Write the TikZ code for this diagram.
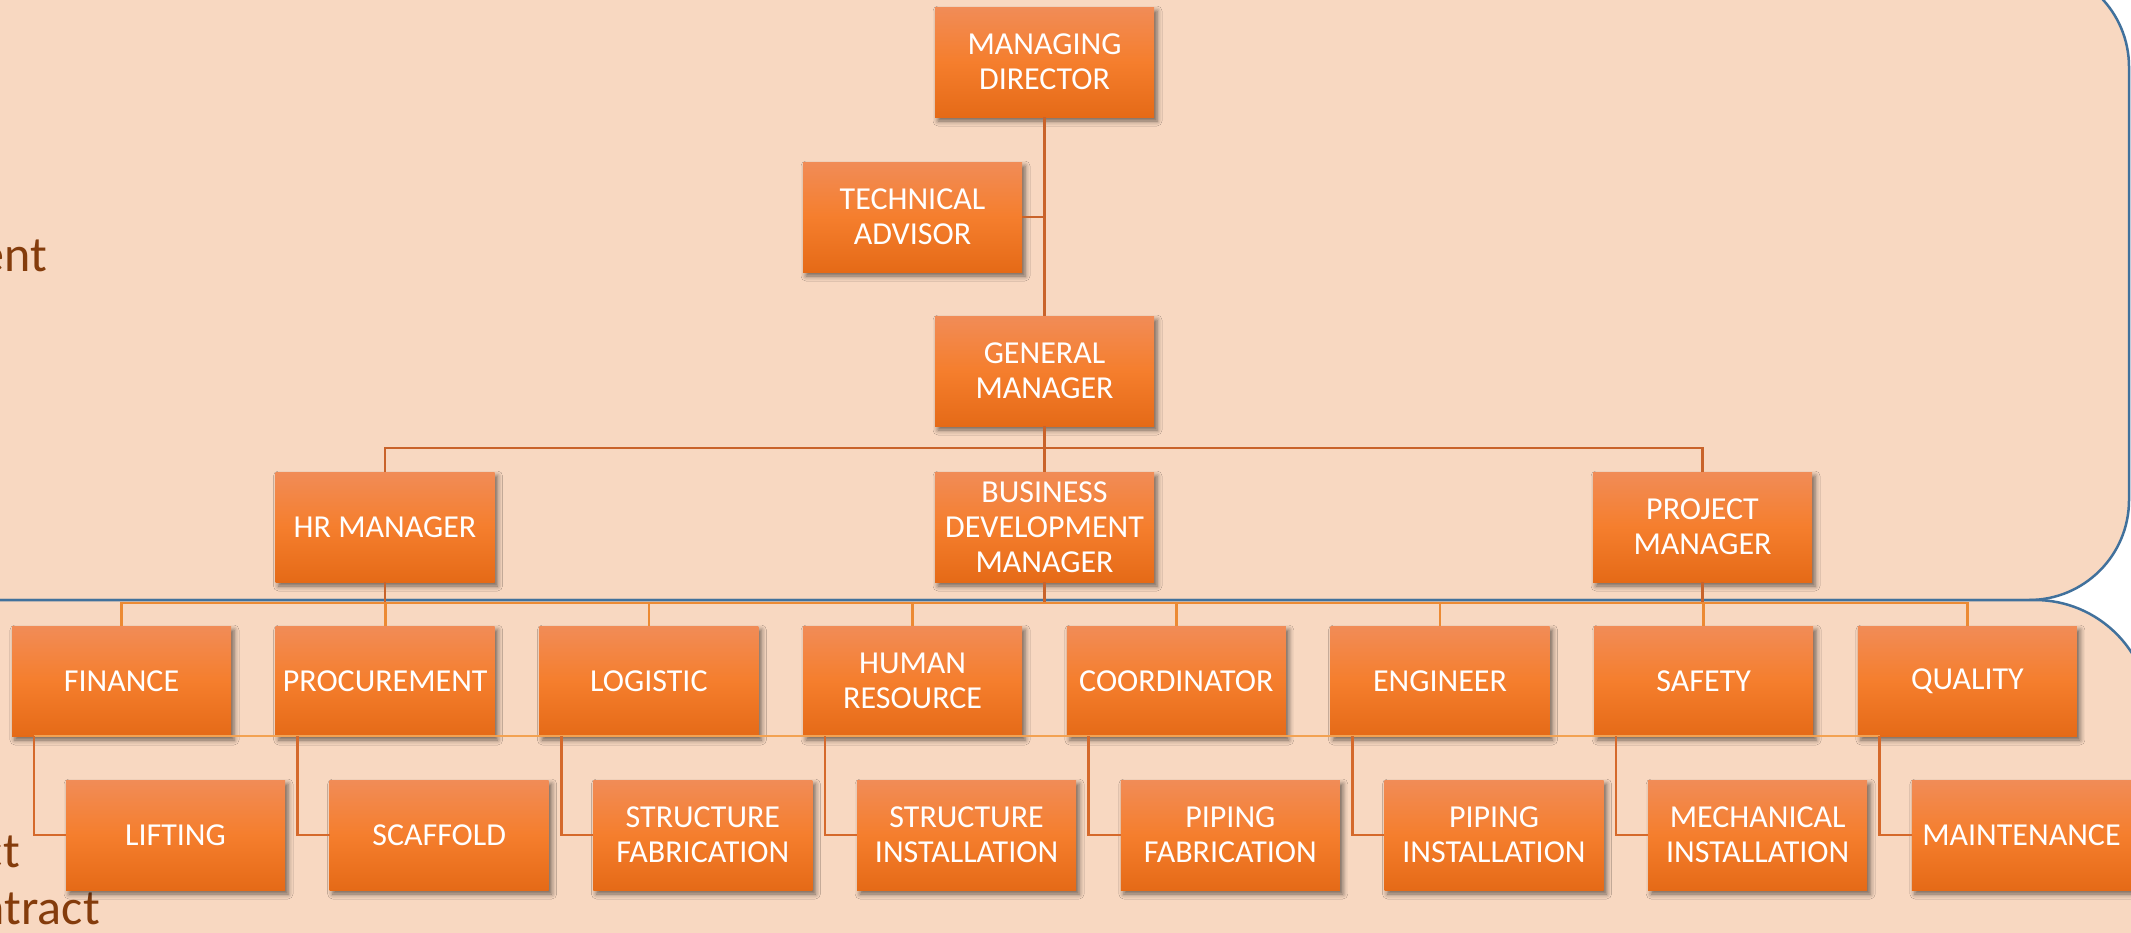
\documentclass[tikz,border=0pt]{standalone}
\usepackage{fontspec}
\setmainfont{Carlito}
\usetikzlibrary{shadows.blur,calc}
\definecolor{bgpeach}{HTML}{F8D8C1}
\definecolor{bgblue}{HTML}{41719C}
\definecolor{txtbrown}{HTML}{843C0C}
\definecolor{boxtop}{HTML}{F18C57}
\definecolor{boxmid}{HTML}{F57E2D}
\definecolor{boxbot}{HTML}{E56A17}
\definecolor{lineA}{HTML}{C9632A}
\definecolor{lineB}{HTML}{EC8A33}
\definecolor{lineC}{HTML}{D5692B}
\definecolor{lineD}{HTML}{F3A252}
\tikzset{
  ob/.style={rectangle, minimum width=219pt, minimum height=110pt, inner sep=0pt,
    align=center, text=white, font=\fontsize{32}{35}\selectfont,
    top color=boxtop, bottom color=boxbot, middle color=boxmid,
    blur shadow={shadow xshift=3pt, shadow yshift=-4pt, shadow blur radius=5pt, shadow opacity=55}},
  bgshape/.style={fill=bgpeach, draw=bgblue, line width=2.5pt},
  conA/.style={draw=lineA, line width=2.6pt},
  conB/.style={draw=lineB, line width=2.6pt},
  conC/.style={draw=lineC, line width=2.6pt},
  conD/.style={draw=lineD, line width=1.6pt},
  sidetxt/.style={text=txtbrown, font=\fontsize{50}{57}\selectfont, inner sep=0pt, anchor=base east}
}
\begin{document}
\begin{tikzpicture}[x=1pt,y=-1pt]
\useasboundingbox (0,0) rectangle (2131,932);
\clip (0,0) rectangle (2131,932);
\fill[white] (0,0) rectangle (2131,932);
% background panels
\path[bgshape, rounded corners=100pt] (-300,-33) rectangle (2129,600);
\path[bgshape, rounded corners=115pt] (-300,600) rectangle (2150,1150);
% side texts (cut off at the left edge, as in the reference)
\node[sidetxt] (t1) at (47,271) {ent};
\node[sidetxt] (t2) at (20,867) {ct};
\node[sidetxt] (t3) at (100,924) {ntract};
% coordinates for buses
\coordinate (b1) at (1044.5,448);
\coordinate (b2) at (1044.5,603);
\coordinate (b3) at (1044.5,762);
% top levels
\node[ob] (md) at (1044.5,62) {MANAGING\\DIRECTOR};
\node[ob] (ta) at (912.5,217) {TECHNICAL\\ADVISOR};
\node[ob] (gm) at (1044.5,371) {GENERAL\\MANAGER};
\node[ob] (hr) at (385,527) {HR MANAGER};
\node[ob] (bd) at (1044.5,527) {BUSINESS\\DEVELOPMENT\\MANAGER};
\node[ob] (pm) at (1702.5,527) {PROJECT\\MANAGER};
% row 3
\node[ob] (fin)   at (121.5,681)  {FINANCE};
\node[ob] (proc)  at (385.2,681)  {PROCUREMENT};
\node[ob] (log)   at (648.9,681)  {LOGISTIC};
\node[ob] (hum)   at (912.6,681)  {HUMAN\\RESOURCE};
\node[ob] (coord) at (1176.3,681) {COORDINATOR};
\node[ob] (eng)   at (1440.0,681) {ENGINEER};
\node[ob] (saf)   at (1703.7,681) {SAFETY};
\node[ob] (qual)  at (1967.4,681) {QUALITY};
% row 4
\node[ob] (lift)  at (175.5,835)  {LIFTING};
\node[ob] (scaf)  at (439.2,835)  {SCAFFOLD};
\node[ob] (sfab)  at (702.9,835)  {STRUCTURE\\FABRICATION};
\node[ob] (sins)  at (966.6,835)  {STRUCTURE\\INSTALLATION};
\node[ob] (pfab)  at (1230.3,835) {PIPING\\FABRICATION};
\node[ob] (pins)  at (1494.0,835) {PIPING\\INSTALLATION};
\node[ob] (mins)  at (1757.7,835) {MECHANICAL\\INSTALLATION};
\node[ob] (maint) at (2021.4,835) {MAINTENANCE};
% connectors, upper part
\draw[conA] (md.south) -- (gm.north);
\draw[conA] (ta.east) -- (ta.east -| md.south);
\draw[conA] (gm.south) -- (bd.north);
\draw[conA] (hr.north) |- (b1) -| (pm.north);
\foreach \n in {hr,bd,pm} \draw[conA] (\n.south) -- (\n.south |- b2);
% row 3 bus
\draw[conB] (fin.north) |- (b2) -| (qual.north);
\foreach \n in {proc,log,hum,coord,eng,saf} \draw[conB] (\n.north) -- (\n.north |- b2);
% row 3 to row 4
\draw[conD] ($(fin.south west)+(22,0)$ |- b3) -- ($(qual.south west)+(22,0)$ |- b3);
\foreach \a/\b in {fin/lift,proc/scaf,log/sfab,hum/sins,coord/pfab,eng/pins,saf/mins,qual/maint}
  \draw[conC] ($(\a.south west)+(22,0)$) |- (\b.west);
\end{tikzpicture}
\end{document}
